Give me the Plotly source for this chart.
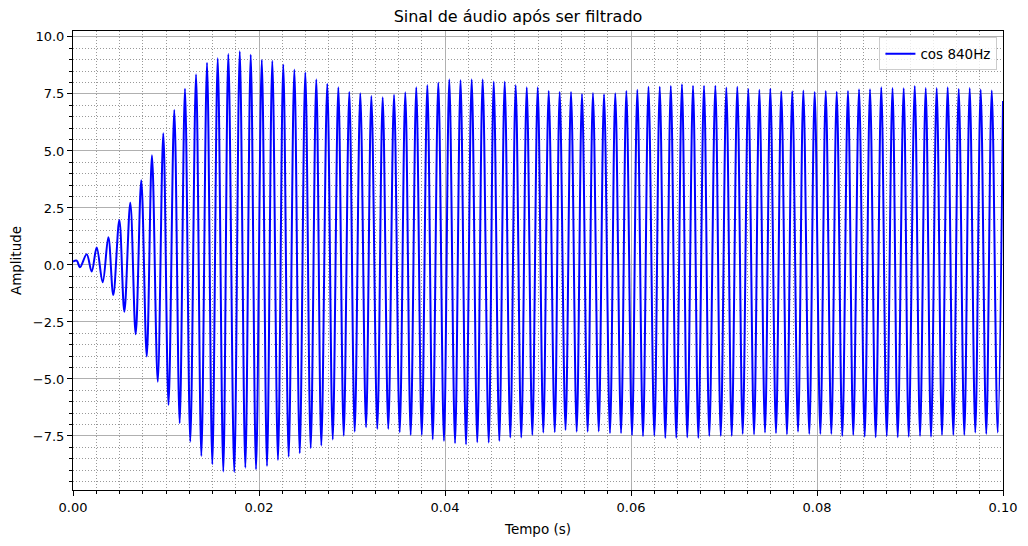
import plotly.graph_objects as go

# extremos do sinal filtrado (picos e vales)
t_ms = [
    0.00, 0.40, 0.75, 1.47, 2.01, 2.55, 3.19, 3.80, 4.33, 4.98, 5.52, 6.16, 6.74, 7.34, 7.93, 8.49, 9.11, 9.71,
    10.27, 10.89, 11.47, 12.04, 12.61, 13.23, 13.80, 14.41, 14.98, 15.56, 16.16, 16.70, 17.34, 17.93, 18.53, 19.11,
    19.68, 20.30, 20.86, 21.43, 22.04, 22.61, 23.19, 23.80, 24.38, 24.98, 25.56, 26.16, 26.70, 27.34, 27.93, 28.53,
    29.11, 29.71, 30.29, 30.89, 31.51, 32.08, 32.72, 33.30, 33.90, 34.52, 35.13, 35.73, 36.31, 36.91, 37.50, 38.10,
    38.68, 39.28, 39.89, 40.46, 41.08, 41.67, 42.26, 42.87, 43.47, 44.05, 44.70, 45.24, 45.84, 46.42, 47.02, 47.60,
    48.20, 48.79, 49.39, 49.97, 50.57, 51.15, 51.80, 52.33, 52.96, 53.55, 54.16, 54.73, 55.34, 55.91, 56.53, 57.10,
    57.74, 58.31, 58.93, 59.50, 60.11, 60.68, 61.29, 61.88, 62.51, 63.09, 63.69, 64.28, 64.87, 65.48, 66.05, 66.67,
    67.24, 67.85, 68.42, 69.07, 69.65, 70.25, 70.83, 71.43, 72.01, 72.61, 73.23, 73.80, 74.41, 74.98, 75.59, 76.16,
    76.77, 77.34, 77.96, 78.53, 79.17, 79.75, 80.36, 80.94, 81.54, 82.12, 82.72, 83.33, 83.90, 84.52, 85.13, 85.70,
    86.31, 86.91, 87.50, 88.12, 88.68, 89.32, 89.86, 90.51, 91.08, 91.69, 92.26, 92.87, 93.44, 94.05, 94.66, 95.24,
    95.84, 96.42, 97.02, 97.60, 98.20, 98.79, 99.43, 100.00,
]
amplitude = [
    0.15, 0.19, -0.10, 0.47, -0.29, 0.76, -0.76, 1.21, -1.32, 1.97, -2.05, 2.73, -3.04, 3.71, -4.02, 4.81, -5.12, 5.78,
    -6.14, 6.80, -6.94, 7.73, -7.75, 8.36, -8.38, 8.87, -8.74, 9.06, -9.06, 9.25, -9.08, 9.37, -8.89, 9.22,
    -8.96, 8.99, -8.82, 8.95, -8.55, 8.79, -8.41, 8.57, -8.26, 8.45, -8.04, 8.14, -7.92, 7.95, -7.65, 7.79,
    -7.49, 7.59, -7.31, 7.53, -7.12, 7.41, -7.19, 7.35, -7.19, 7.46, -7.34, 7.57, -7.46, 7.79, -7.46, 7.89,
    -7.65, 8.00, -7.72, 8.14, -7.82, 8.11, -7.87, 8.14, -7.78, 8.14, -7.79, 8.04, -7.72, 8.04, -7.57, 7.89,
    -7.57, 7.79, -7.46, 7.79, -7.35, 7.63, -7.34, 7.59, -7.24, 7.59, -7.31, 7.50, -7.31, 7.54, -7.30, 7.49,
    -7.38, 7.53, -7.38, 7.63, -7.47, 7.68, -7.51, 7.81, -7.49, 7.82, -7.59, 7.85, -7.59, 7.93, -7.56, 7.86,
    -7.59, 7.86, -7.50, 7.86, -7.50, 7.78, -7.50, 7.81, -7.41, 7.72, -7.43, 7.68, -7.35, 7.73, -7.38, 7.62,
    -7.43, 7.62, -7.31, 7.65, -7.41, 7.59, -7.41, 7.63, -7.41, 7.60, -7.50, 7.63, -7.46, 7.71, -7.53, 7.71,
    -7.56, 7.79, -7.50, 7.76, -7.56, 7.75, -7.53, 7.85, -7.50, 7.76, -7.53, 7.76, -7.46, 7.79, -7.46, 7.72,
    -7.46, 7.76, -7.35, 7.69, -7.41, 7.65, -7.35, 7.19,
]
tempo = [t / 1000 for t in t_ms]

x_ticks = [0.0, 0.02, 0.04, 0.06, 0.08, 0.10]
y_ticks = [-7.5, -5.0, -2.5, 0.0, 2.5, 5.0, 7.5, 10.0]

fig = go.Figure()
fig.add_trace(go.Scatter(x=tempo, y=amplitude, mode="lines", name="cos 840Hz",
                         line=dict(color="#0000ff", width=2, shape="spline", smoothing=1)))

axis_common = dict(
    showline=True, mirror=True, linecolor="black", linewidth=1,
    ticks="outside", ticklen=5, tickcolor="black",
    showgrid=True, gridcolor="#b0b0b0", gridwidth=1,
    zeroline=False, automargin=False,
    tickfont=dict(size=13, color="black"),
)
minor_grid = dict(ticks="outside", ticklen=3, tickcolor="black",
                  showgrid=True, gridcolor="#999999", griddash="1px,2px", gridwidth=0.7)

# a página tem 8px de margem no body, por isso a figura é 1020x538
fig.update_layout(
    width=1020, height=538,
    margin=dict(l=65, r=25, t=23, b=56),
    paper_bgcolor="white", plot_bgcolor="white",
    font=dict(family="DejaVu Sans", color="black"),
    title=dict(text="Sinal de áudio após ser filtrado", x=0.5, xanchor="center",
               y=0.984, yanchor="middle", font=dict(size=16)),
    legend=dict(x=0.994, y=0.986, xanchor="right", yanchor="top",
                bgcolor="rgba(255,255,255,0.8)", bordercolor="#cccccc", borderwidth=1,
                font=dict(size=13.5)),
    showlegend=True,
)
fig.update_xaxes(
    range=[0, 0.1], tickvals=x_ticks, tickformat=".2f",
    title=dict(text="Tempo (s)", font=dict(size=13.5), standoff=10),
    minor=dict(dtick=0.0025, tick0=0, **minor_grid),
    **axis_common,
)
fig.update_yaxes(
    range=[-9.87, 10.26], tickvals=y_ticks, tickformat=".1f",
    title=dict(text="Amplitude", font=dict(size=13.5), standoff=10),
    minor=dict(dtick=0.5, tick0=0, **minor_grid),
    **axis_common,
)

fig.write_html("out.html")
